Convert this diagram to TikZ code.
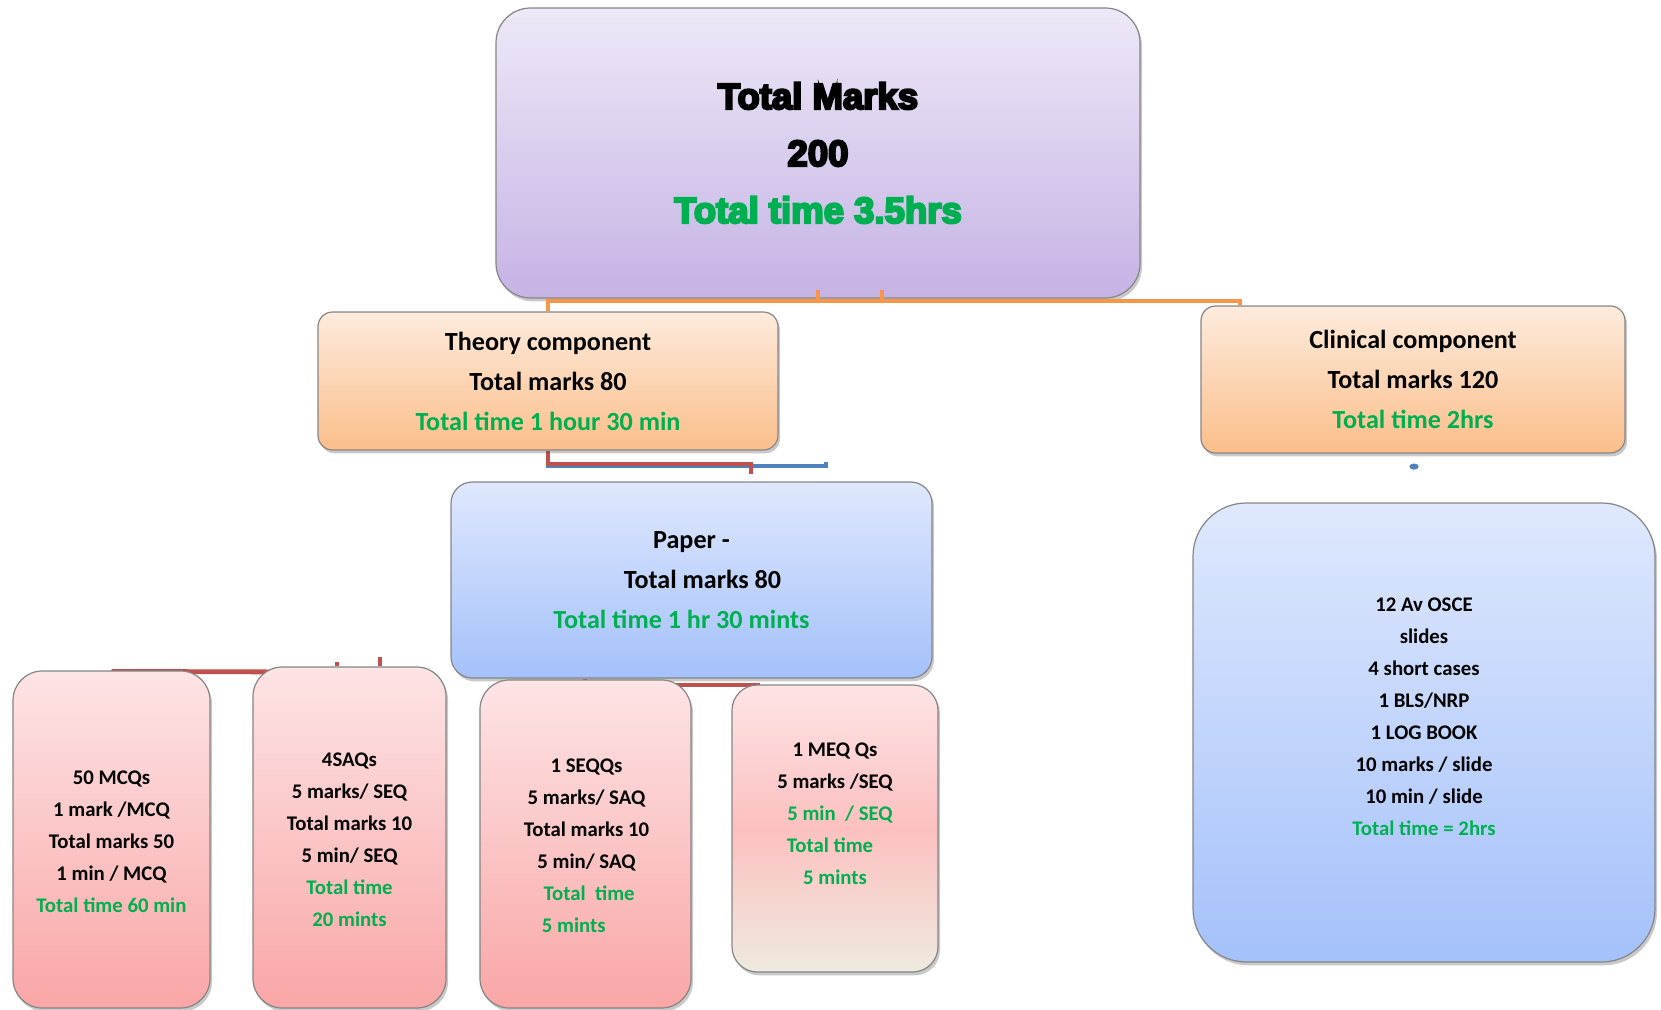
\documentclass[tikz,border=0pt]{standalone}
\usepackage{fontspec}
\setmainfont{Carlito}
\newfontfamily\heavyfont{Liberation Sans Bold}[FakeBold=6]
\usetikzlibrary{shadows,fit,calc,backgrounds}

\definecolor{txtgreen}{HTML}{00B050}
\definecolor{lavtop}{HTML}{EEE8F8}
\definecolor{lavbot}{HTML}{C5B3E4}
\definecolor{ortop}{HTML}{FDEBDD}
\definecolor{orbot}{HTML}{FBBE8A}
\definecolor{bluetop}{HTML}{DFE8FD}
\definecolor{bluebot}{HTML}{A4C1FA}
\definecolor{pinktop}{HTML}{FDE4E5}
\definecolor{pinkmid}{HTML}{FCC0C0}
\definecolor{pinkbot}{HTML}{F9A6A6}
\definecolor{beige}{HTML}{EEEADF}
\definecolor{boxedge}{HTML}{858585}
\definecolor{conorange}{HTML}{F79646}
\definecolor{conred}{HTML}{C0504D}
\definecolor{conblue}{HTML}{4F81BD}

\tikzset{
  box/.style={draw=boxedge, line width=0.9pt, inner sep=0pt,
    drop shadow={shadow xshift=1.5pt, shadow yshift=-2.5pt, opacity=.3, fill=black!70}},
  lavbox/.style={box, top color=lavtop, bottom color=lavbot, rounded corners=26pt},
  orbox/.style={box, top color=ortop, bottom color=orbot, rounded corners=11pt},
  bluebox/.style={box, top color=bluetop, bottom color=bluebot},
  pinkbox/.style={box, top color=pinktop, bottom color=pinkbot, rounded corners=22pt},
  titletxt/.style={align=center, inner sep=0pt, font=\heavyfont\fontsize{27.4}{42.75}\selectfont},
  midtxt/.style={align=center, inner sep=0pt, font=\bfseries\fontsize{19.6}{30}\selectfont},
  smalltxt/.style={align=center, inner sep=0pt, font=\bfseries\fontsize{15.6}{24}\selectfont},
  orcon/.style={draw=conorange, line width=3.2pt},
  redcon/.style={draw=conred, line width=3pt},
  bluecon/.style={draw=conblue, line width=3pt},
}
\newcommand{\grn}[1]{\textcolor{txtgreen}{#1}}

\begin{document}
\begin{tikzpicture}[x=0.75pt, y=-0.75pt]
\useasboundingbox (0,0) rectangle (1661,1010);

% boxes
\node[lavbox, fit={(496,8) (1140,298)}] (total) {};
\node[orbox, fit={(318,312) (778,450)}] (theory) {};
\node[orbox, fit={(1201,306) (1625,453)}] (clinical) {};
\node[bluebox, rounded corners=16pt, fit={(451,482) (932,678)}] (paper) {};
\node[bluebox, rounded corners=40pt, fit={(1193,503) (1655,962)}] (osce) {};
\node[pinkbox, fit={(13,671) (210,1008)}] (mcq) {};
\node[pinkbox, fit={(253,667) (446,1008)}] (saq) {};
\node[pinkbox, fit={(480,680) (691,1008)}] (seq) {};
\node[box, top color=pinktop, bottom color=beige, middle color=pinkmid,
      rounded corners=19pt, fit={(732,685) (938,972)}] (meq) {};

% texts
\node[titletxt] (totaltxt) at (total.center)
  {Total Marks\\200\\\grn{Total time 3.5hrs}};
\node[midtxt] (theorytxt) at (theory.center)
  {Theory component\\Total marks 80\\\grn{Total time 1 hour 30 min}};
\node[midtxt] (clinicaltxt) at (clinical.center)
  {Clinical component\\Total marks 120\\\grn{Total time 2hrs}};
\node[midtxt] (papertxt) at (paper.center)
  {Paper -\\\hbox{\kern16.5pt Total marks 80}\\\grn{\hbox{Total time 1 hr 30 mints\kern15pt}}};
\node[smalltxt] (oscetxt) at ($(osce.center)+(0,-16)$)
  {12 Av OSCE\\slides\\4 short cases\\1 BLS/NRP\\1 LOG BOOK\\10 marks / slide\\10 min / slide\\\grn{Total time = 2hrs}};
\node[smalltxt] (mcqtxt) at ($(mcq.center)+(0,2)$)
  {50 MCQs\\1 mark /MCQ\\Total marks 50\\1 min / MCQ\\\grn{Total time 60 min}};
\node[smalltxt] (saqtxt) at ($(saq.center)+(0,2)$)
  {4SAQs\\5 marks/ SEQ\\Total marks 10\\5 min/ SEQ\\\grn{Total time}\\\grn{20 mints}};
\node[smalltxt] (seqtxt) at ($(seq.center)+(1,2)$)
  {1 SEQQs\\5 marks/ SAQ\\Total marks 10\\5 min/ SAQ\\\grn{\hbox{\kern4pt Total\ \ time}}\\\grn{\hbox{5 mints\kern19pt}}};
\node[smalltxt] (meqtxt) at ($(meq.center)+(0,-15)$)
  {1 MEQ Qs\\5 marks /SEQ\\\grn{\hbox{\kern7.5pt 5 min\ \ / SEQ}}\\\grn{\hbox{Total time\kern7.5pt}}\\\grn{5 mints}};

% connectors lying behind the boxes
\coordinate (bluebend) at (826,466);
\coordinate (redend) at (751,474);
\coordinate (saqjoin) at (300,672);
\coordinate (tickA) at (337,662);
\coordinate (tickB) at (380,657);
\coordinate (ptick) at (585,685);
\coordinate (meqjoin) at (760,685);
\begin{pgfonlayer}{background}
  \draw[bluecon] (theory.south) |- (bluebend) -- ++(0,-4);
  \draw[redcon] (theory.south) -- ++(0,13) -| (redend);
  \draw[redcon, line width=3.6pt] ($(mcq.north)+(0,1)$) -- (saqjoin);
  \draw[redcon, line width=3.5pt] (tickA) -- (tickA |- saq.north);
  \draw[redcon, line width=3.5pt] (tickB) -- (tickB |- saq.north);
  \draw[redcon] (paper.south -| ptick) -- (ptick) -- (meqjoin);
\end{pgfonlayer}

% stub below the clinical component
\fill[conblue] ($(clinical.south)+(1,13)$) ellipse [x radius=3.5pt, y radius=2.3pt];

% orange connectors from the total
\coordinate (orangeend) at (1240,301);
\draw[orcon] (theory.north) |- (orangeend) -- (orangeend |- clinical.north);
\draw[orcon] ($(total.south)+(0,-9)$) -- ($(total.south)+(0,3)$);
\draw[orcon] ($(total.south)+(64,-9)$) -- ($(total.south)+(64,3)$);
\end{tikzpicture}
\end{document}
